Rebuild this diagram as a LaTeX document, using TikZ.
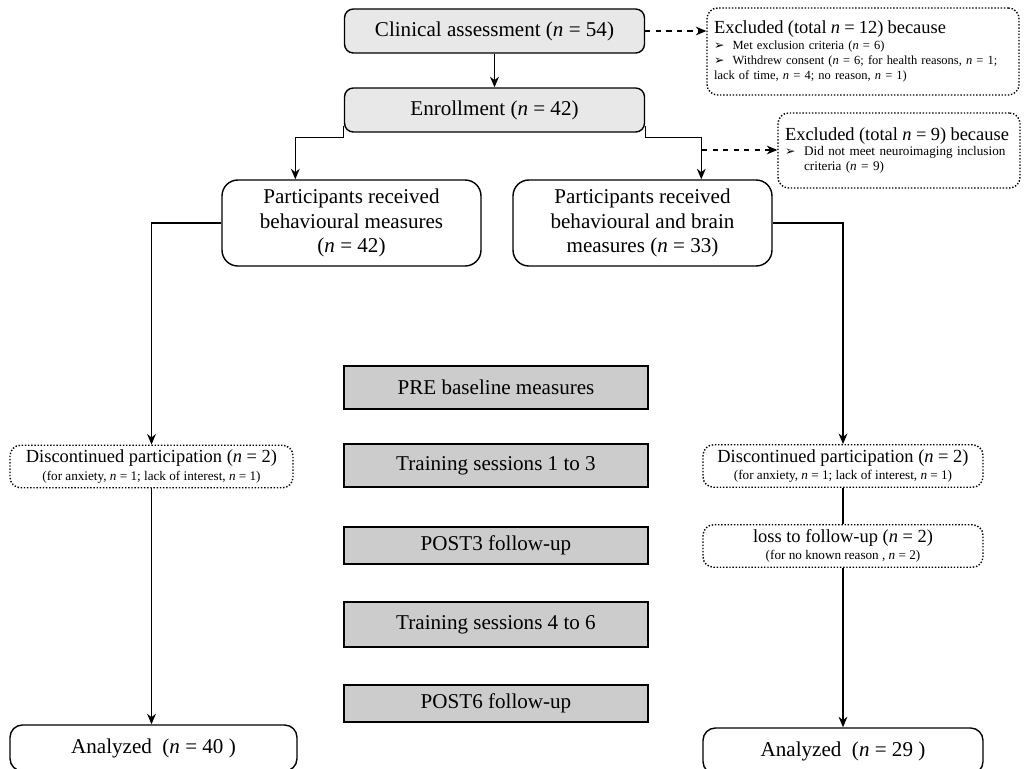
\documentclass[tikz,border=0pt]{standalone}
\usepackage{fontspec}
\setmainfont{Liberation Serif}
\newfontfamily\symfont{DejaVu Sans}
\usepackage{xcolor}
\usepackage{tikz}
\usetikzlibrary{arrows.meta}

\newcommand{\ncount}{\textit{n}}
\newcommand{\arrb}{{\symfont\fontsize{7}{8}\selectfont ➢}}
\newcommand{\hdrfont}{\fontsize{10.5}{12}\selectfont}
\newcommand{\smlfont}{\fontsize{7.5}{8.6}\selectfont}

\tikzset{
  topbox/.style={draw,line width=0.8pt,rounded corners=5pt,fill=gray!18,
    minimum width=6cm,minimum height=0.88cm,font=\fontsize{12}{14}\selectfont},
  mainbox/.style={draw,line width=0.8pt,rounded corners=9pt,align=center,
    minimum width=5.18cm,minimum height=1.72cm,font=\fontsize{12}{14}\selectfont},
  phasebox/.style={draw,line width=0.8pt,fill=gray!40,minimum width=6.08cm,
    font=\fontsize{12}{14}\selectfont},
  notebox/.style={draw,densely dotted,line width=0.8pt,rounded corners=6pt,align=center,
    minimum width=5.6cm,minimum height=0.85cm,inner sep=1pt,font=\hdrfont},
  endbox/.style={draw,line width=0.8pt,rounded corners=7pt,minimum height=0.92cm,
    font=\fontsize{12}{14}\selectfont},
  flow/.style={line width=0.7pt}
}

\begin{document}
\begin{tikzpicture}[x=0.02cm,y=-0.02cm,>={Stealth[length=6pt,width=5pt]}]
\useasboundingbox (0,0) rectangle (1024,768);

% enrolment
\node[topbox] (clin) at (494.5,31) {Clinical assessment (\ncount{} = 54)};
\node[topbox] (enrol) at (494.5,110) {Enrollment (\ncount{} = 42)};
\node[draw,densely dotted,line width=0.8pt,rounded corners=6pt,align=left,
  text width=5.96cm,inner xsep=0.14cm,minimum height=1.74cm,
  font=\fontsize{7.1}{8.6}\selectfont]
  (excla) at (863,51.5)
  {{\hdrfont Excluded (total \ncount{} = 12) because}\\
   \arrb\ \ Met exclusion criteria (\ncount{} = 6)\\
   \arrb\ \ Withdrew consent (\ncount{} = 6; for health reasons, \ncount{} = 1;\\
   lack of time, \ncount{} = 4; no reason, \ncount{} = 1)};
\node[draw,densely dotted,line width=0.8pt,rounded corners=6pt,align=left,
  text width=4.56cm,inner xsep=0.14cm,minimum height=1.5cm,font=\smlfont]
  (exclb) at (899,150.5)
  {{\hdrfont Excluded (total \ncount{} = 9) because}\\
   \arrb\ \ Did not meet neuroimaging inclusion\\
   \phantom{\arrb\ \ }criteria (\ncount{} = 9)};

% groups
\node[mainbox] (beh) at (351.5,223) {Participants received\\behavioural measures\\(\ncount{} = 42)};
\node[mainbox] (brain) at (642.5,223) {Participants received\\behavioural and brain\\measures (\ncount{} = 33)};

% study phases
\node[phasebox,minimum height=0.86cm] (pre) at (496,387.5) {PRE baseline measures};
\node[phasebox,minimum height=0.86cm] (tra) at (496,465.5) {Training sessions 1 to 3};
\node[phasebox,minimum height=0.74cm] (posta) at (496,545.5) {POST3 follow-up};
\node[phasebox,minimum height=0.9cm] (trb) at (496,624.5) {Training sessions 4 to 6};
\node[phasebox,minimum height=0.74cm] (postb) at (496,703.5) {POST6 follow-up};

% drop-outs
\node[notebox,minimum width=5.66cm] (discl) at (151.5,466.5)
  {Discontinued participation (\ncount{} = 2)\\[-2pt]
   {\smlfont (for anxiety, \ncount{} = 1; lack of interest, \ncount{} = 1)}};
\node[notebox] (discr) at (843,466)
  {Discontinued participation (\ncount{} = 2)\\[-2pt]
   {\smlfont (for anxiety, \ncount{} = 1; lack of interest, \ncount{} = 1)}};
\node[notebox] (loss) at (843,546)
  {loss to follow-up (\ncount{} = 2)\\[-2pt]
   {\smlfont (for no known reason , \ncount{} = 2)}};

% analysed
\node[endbox,minimum width=5.74cm] (anal) at (153.5,748) {Analyzed\ \ (\ncount{} = 40 )};
\node[endbox,minimum width=5.6cm] (anar) at (843,751) {Analyzed\ \ (\ncount{} = 29 )};

% connectors
\coordinate (bj) at (702,150);
\draw[flow,->] (clin.south) -- (clin.south |- enrol.north);
\draw[flow,dashed,->] (clin.east) -- (clin.east -| excla.west);
\draw[flow,->] ([yshift=0.14cm]enrol.south west) -- ++(0,12) -| ([xshift=1.48cm]beh.north west);
\draw[flow,->] ([yshift=0.14cm]enrol.south east) -- ++(0,12) -| ([xshift=3.78cm]brain.north west);
\draw[flow,dashed,->] (bj) -- (bj -| exclb.west);
\draw[flow,->] (beh.west) -| (discl.north);
\draw[flow,->] (discl.south) -- (discl.south |- anal.north);
\draw[flow,->] (brain.east) -| (discr.north);
\draw[flow] (discr.south) -- (loss.north);
\draw[flow,->] (loss.south) -- (anar.north);
\end{tikzpicture}
\end{document}
